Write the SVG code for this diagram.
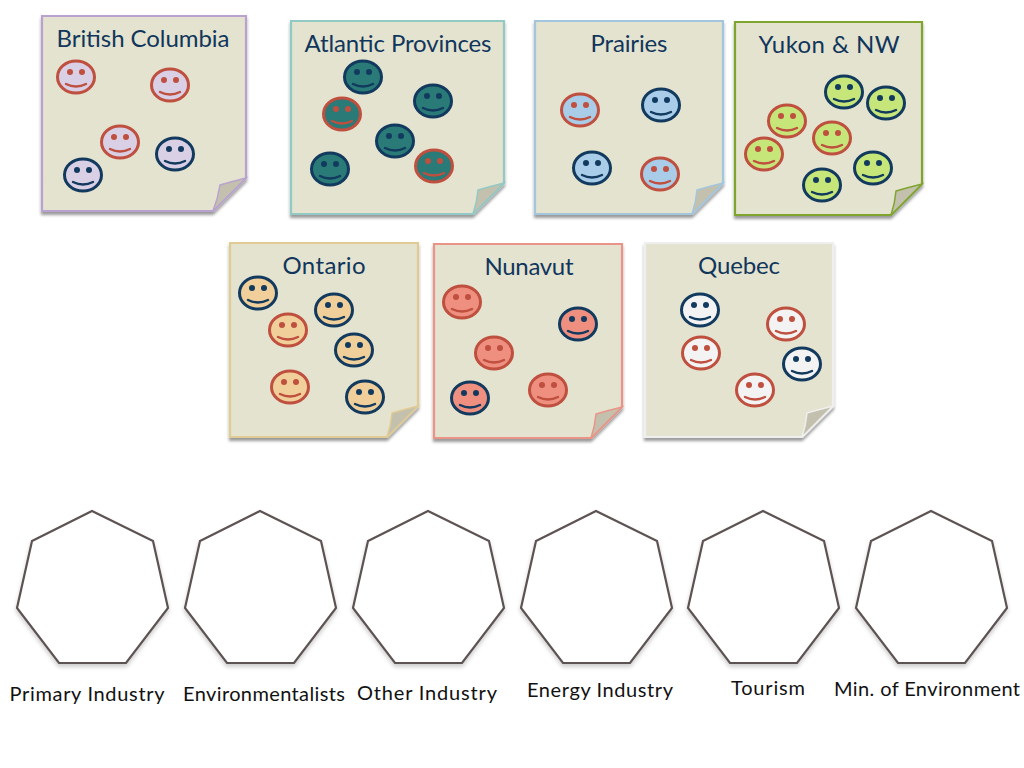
<svg xmlns="http://www.w3.org/2000/svg" xmlns:xlink="http://www.w3.org/1999/xlink" width="1024" height="768" viewBox="0 0 1024 768">
<style>
.paper{fill:#e4e3cf;stroke-width:2.2;filter:url(#sh)}
.flap{fill:#c3c1ad;stroke-width:1.5}
.title{font-family:Lato,"Liberation Sans",sans-serif;font-size:24px;fill:#11365c;text-anchor:middle}
.label{font-family:Lato,"Liberation Sans",sans-serif;font-size:20px;fill:#111;text-anchor:middle}
.hept{fill:#fff;stroke:#5d5352;stroke-width:2.2;stroke-linejoin:miter;filter:url(#sh2)}
.n{color:#123a5e}
.r{color:#bf4f3e}
</style>
<defs>
<filter id="sh" x="-10%" y="-10%" width="120%" height="120%"><feDropShadow dx="0" dy="3" stdDeviation="1.8" flood-color="#000" flood-opacity="0.4"/></filter>
<filter id="sh2" x="-10%" y="-10%" width="120%" height="120%"><feDropShadow dx="0" dy="3" stdDeviation="2" flood-color="#000" flood-opacity="0.2"/></filter>
<g id="face">
<ellipse cx="0" cy="0" rx="18.5" ry="16" stroke="currentColor" stroke-width="3"/>
<circle cx="-6" cy="-5" r="3" fill="currentColor"/>
<circle cx="6" cy="-5" r="3" fill="currentColor"/>
<path d="M-10 7Q0 12 10 7" fill="none" stroke="currentColor" stroke-width="2.4" stroke-linecap="round"/>
</g>
</defs>

<g id="node-bc" fill="#d9d0e6">
<path class="paper" stroke="#b9a2cf" d="M42 16H246V178L213 211H42Z"/>
<path class="flap" stroke="#b9a2cf" d="M246 178Q230 182 220 185Q218 198 213 211Z"/>
<text class="title" x="143" y="47" textLength="173">British Columbia</text>
<use href="#face" class="r" x="76" y="77"/><use href="#face" class="r" x="170" y="85"/><use href="#face" class="r" x="120" y="142"/><use href="#face" class="n" x="175" y="154"/><use href="#face" class="n" x="83" y="175"/>
</g>

<g id="node-atlantic" fill="#2a7a78">
<path class="paper" stroke="#93c9c5" d="M291 21H504V183L473 214H291Z"/>
<path class="flap" stroke="#93c9c5" d="M504 183Q488 187 478 190Q477 202 473 214Z"/>
<text class="title" x="398" y="52" textLength="187">Atlantic Provinces</text>
<use href="#face" class="n" x="363" y="77"/><use href="#face" class="n" x="433" y="101"/><use href="#face" class="r" x="342" y="114"/><use href="#face" class="n" x="395" y="141"/><use href="#face" class="n" x="330" y="169"/><use href="#face" class="r" x="434" y="166"/>
</g>

<g id="node-prairies" fill="#a9cde9">
<path class="paper" stroke="#a3c6de" d="M535 21H723V183L692 214H535Z"/>
<path class="flap" stroke="#a3c6de" d="M723 183Q707 187 697 190Q696 202 692 214Z"/>
<text class="title" x="629" y="52" textLength="77">Prairies</text>
<use href="#face" class="r" x="580" y="110"/><use href="#face" class="n" x="661" y="105"/><use href="#face" class="n" x="592" y="168"/><use href="#face" class="r" x="660" y="174"/>
</g>

<g id="node-yukon" fill="#c6e67a">
<path class="paper" stroke="#7fa52e" d="M735 22H922V184L891 215H735Z"/>
<path class="flap" stroke="#7fa52e" d="M922 184Q906 188 896 191Q895 203 891 215Z"/>
<text class="title" x="829" y="53" textLength="141">Yukon &amp; NW</text>
<use href="#face" class="n" x="844" y="92"/><use href="#face" class="n" x="886" y="103"/><use href="#face" class="r" x="787" y="121"/><use href="#face" class="r" x="832" y="138"/><use href="#face" class="r" x="764" y="154"/><use href="#face" class="n" x="873" y="168"/><use href="#face" class="n" x="822" y="185"/>
</g>

<g id="node-ontario" fill="#f0cf9a">
<path class="paper" stroke="#e0cb95" d="M230 243H418V406L387 437H230Z"/>
<path class="flap" stroke="#e0cb95" d="M418 406Q402 410 392 413Q391 425 387 437Z"/>
<text class="title" x="324" y="274" textLength="83">Ontario</text>
<use href="#face" class="n" x="258" y="293"/><use href="#face" class="n" x="334" y="310"/><use href="#face" class="r" x="288" y="330"/><use href="#face" class="n" x="354" y="350"/><use href="#face" class="r" x="290" y="387"/><use href="#face" class="n" x="365" y="397"/>
</g>

<g id="node-nunavut" fill="#ef8f80">
<path class="paper" stroke="#ea9488" d="M434 244H622V407L591 438H434Z"/>
<path class="flap" stroke="#ea9488" d="M622 407Q606 411 596 414Q595 426 591 438Z"/>
<text class="title" x="529" y="275" textLength="89">Nunavut</text>
<use href="#face" class="r" x="462" y="302"/><use href="#face" class="n" x="578" y="324"/><use href="#face" class="r" x="494" y="353"/><use href="#face" class="r" x="548" y="390"/><use href="#face" class="n" x="470" y="398"/>
</g>

<g id="node-quebec" fill="#f3f3f3">
<path class="paper" stroke="#efefef" d="M645 243H833V406L802 437H645Z"/>
<path class="flap" stroke="#efefef" d="M833 406Q817 410 807 413Q806 425 802 437Z"/>
<text class="title" x="739" y="274" textLength="82">Quebec</text>
<use href="#face" class="n" x="700" y="310"/><use href="#face" class="r" x="786" y="324"/><use href="#face" class="r" x="701" y="353"/><use href="#face" class="n" x="802" y="364"/><use href="#face" class="r" x="755" y="390"/>
</g>

<g id="node-primary"><path class="hept" d="M92 511L153 541L168 608L126 663H59L17 608L32 541Z"/><text class="label" x="87" y="701" textLength="155">Primary Industry</text></g>
<g id="node-env"><path class="hept" d="M260 511L321 541L336 608L294 663H227L185 608L200 541Z"/><text class="label" x="264" y="701" textLength="162">Environmentalists</text></g>
<g id="node-other"><path class="hept" d="M428 511L489 541L504 608L462 663H395L353 608L368 541Z"/><text class="label" x="427" y="700" textLength="140">Other Industry</text></g>
<g id="node-energy"><path class="hept" d="M596 511L657 541L672 608L630 663H563L521 608L536 541Z"/><text class="label" x="600" y="697" textLength="146">Energy Industry</text></g>
<g id="node-tourism"><path class="hept" d="M763 511L824 541L839 608L797 663H730L688 608L703 541Z"/><text class="label" x="768" y="695" textLength="74">Tourism</text></g>
<g id="node-minenv"><path class="hept" d="M931 511L992 541L1007 608L965 663H898L856 608L871 541Z"/><text class="label" x="927" y="696" textLength="186">Min. of Environment</text></g>
<g id="connectors"/>
</svg>
